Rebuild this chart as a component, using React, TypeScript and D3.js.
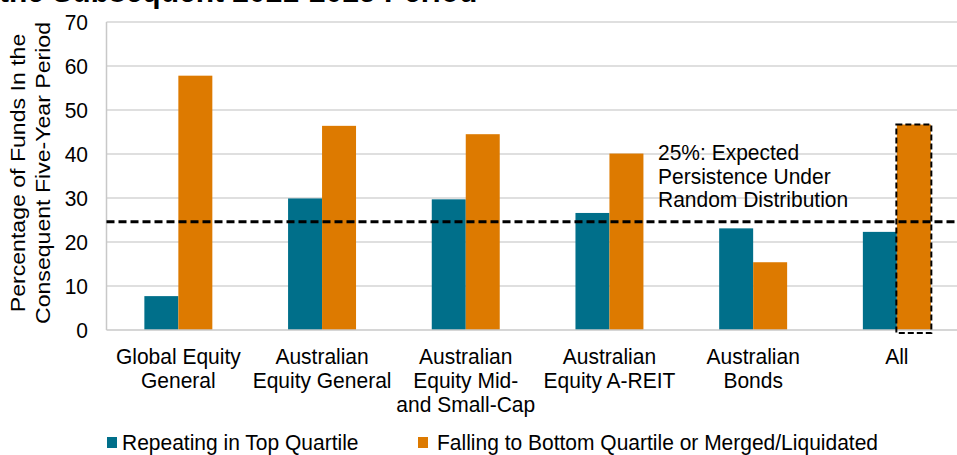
import React from "react";
import * as d3 from "d3";

const categories = [
  "Global Equity General",
  "Australian Equity General",
  "Australian Equity Mid- and Small-Cap",
  "Australian Equity A-REIT",
  "Australian Bonds",
  "All",
];
const categoryLines = [
  ["Global Equity", "General"],
  ["Australian", "Equity General"],
  ["Australian", "Equity Mid-", "and Small-Cap"],
  ["Australian", "Equity A-REIT"],
  ["Australian", "Bonds"],
  ["All"],
];
const repeatingTop = [7.7, 29.9, 29.7, 26.6, 23.1, 22.3];
const fallingBottom = [57.8, 46.4, 44.5, 40.1, 15.4, 46.7];
const seriesNames = ["Repeating in Top Quartile", "Falling to Bottom Quartile or Merged/Liquidated"];
const yTicks = [0, 10, 20, 30, 40, 50, 60, 70];
const expectedLevel = 24.6;
const annotationLines = ["25%: Expected", "Persistence Under", "Random Distribution"];
const yTitleLines = ["Percentage of Funds In the", "Consequent Five-Year Period"];
const titleText = "the Subsequent 2021-2025 Period";

const W = 957;
const H = 455;
const FONT = "'Liberation Sans', Arial, sans-serif";
const TEAL = "#006F8A";
const ORANGE = "#DD7A00";
const SY = 1.08;

function T({
  x,
  y,
  children,
  anchor = "start",
  size = 21,
  weight = "normal",
}: {
  x: number;
  y: number;
  children: React.ReactNode;
  anchor?: string;
  size?: number;
  weight?: string;
}) {
  return (
    <text
      transform={`translate(${x},${y}) scale(1,${SY})`}
      textAnchor={anchor as any}
      fontSize={size}
      fontWeight={weight}
      fill="#000"
    >
      {children}
    </text>
  );
}

export default function App() {
  const left = 106.5;
  const right = 968.7;
  const x = d3
    .scaleBand<string>()
    .domain(categories)
    .range([left, right])
    .paddingInner(0.527)
    .paddingOuter(0.2635);
  const inner = d3
    .scaleBand<string>()
    .domain(["rep", "fall"])
    .range([0, x.bandwidth()]);
  const y = d3.scaleLinear().domain([0, 70]).range([330, 22]);
  const bw = inner.bandwidth();

  const allIdx = categories.length - 1;
  const allX = (x(categories[allIdx]) as number) + (inner("fall") as number);

  return (
    <svg
      width={W}
      height={H}
      style={{ position: "absolute", left: 0, top: 0, background: "#fff" }}
      fontFamily={FONT}
    >
      <T x={-1} y={2} size={30} weight="bold">
        {titleText}
      </T>
      {yTicks.map((t) => (
        <g key={t}>
          {t > 0 && (
            <line x1={left} x2={W} y1={y(t)} y2={y(t)} stroke="#D4D4D4" strokeWidth={1.3} />
          )}
          <T x={88} y={y(t) + 7.8} anchor="end">
            {t}
          </T>
        </g>
      ))}
      <line x1={left} x2={left} y1={y(70)} y2={y(0)} stroke="#C8C8C8" strokeWidth={1.5} />
      {categories.map((c, i) => {
        const x0 = x(c) as number;
        return (
          <g key={c}>
            <rect
              x={x0 + (inner("rep") as number)}
              y={y(repeatingTop[i])}
              width={bw}
              height={y(0) - y(repeatingTop[i])}
              fill={TEAL}
            />
            <rect
              x={x0 + (inner("fall") as number)}
              y={y(fallingBottom[i])}
              width={bw}
              height={y(0) - y(fallingBottom[i])}
              fill={ORANGE}
            />
            {categoryLines[i].map((l, k) => (
              <T key={k} x={x0 + x.bandwidth() / 2} y={364 + k * 24} anchor="middle">
                {l}
              </T>
            ))}
          </g>
        );
      })}
      <line x1={left} x2={W} y1={y(0)} y2={y(0)} stroke="#C8C8C8" strokeWidth={1.5} />
      <line
        x1={left}
        x2={W}
        y1={y(expectedLevel)}
        y2={y(expectedLevel)}
        stroke="#000"
        strokeWidth={3}
        strokeDasharray="8 4"
      />
      <rect
        x={allX - 0.5}
        y={y(fallingBottom[allIdx])}
        width={bw + 1}
        height={y(0) + 3 - y(fallingBottom[allIdx])}
        fill="none"
        stroke="#000"
        strokeWidth={2}
        strokeDasharray="6 3"
      />
      {annotationLines.map((l, k) => (
        <T key={k} x={658} y={160 + k * 23.5}>
          {l}
        </T>
      ))}
      {yTitleLines.map((l, k) => (
        <text
          key={k}
          transform={`translate(${25 + k * 25},173) rotate(-90) scale(${SY + 0.02},1)`}
          textAnchor="middle"
          fontSize={21}
          fill="#000"
        >
          {l}
        </text>
      ))}
      <rect x={107} y={437} width={10} height={11} fill={TEAL} />
      <T x={122} y={450}>
        {seriesNames[0]}
      </T>
      <rect x={418} y={437} width={10} height={11} fill={ORANGE} />
      <T x={437} y={450}>
        {seriesNames[1]}
      </T>
    </svg>
  );
}
